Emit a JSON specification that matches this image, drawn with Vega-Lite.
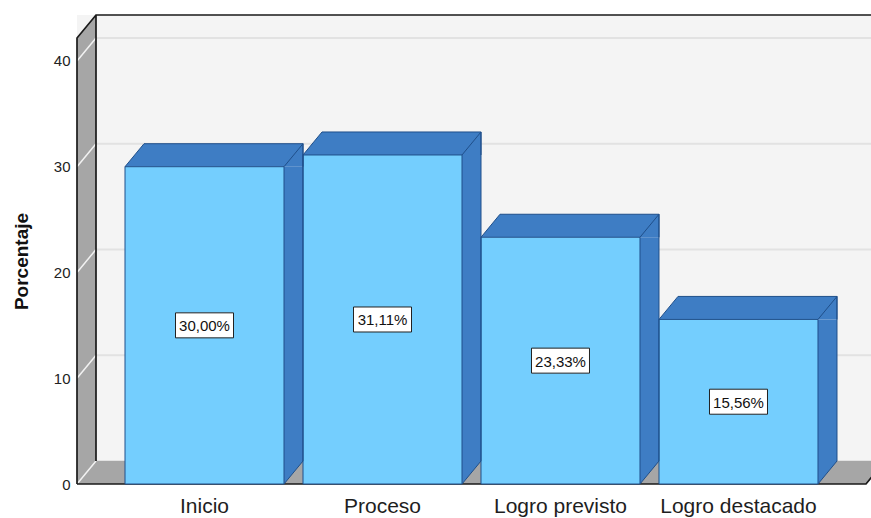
{
  "$schema": "https://vega.github.io/schema/vega-lite/v6.json",
  "width": 789,
  "height": 446,
  "autosize": {"type": "none"},
  "padding": {"left": 77, "top": 38, "right": 5, "bottom": 34},
  "background": "white",
  "config": {"view": {"stroke": null}, "font": "Liberation Sans"},
  "datasets": {
    "pct": [
      {"Categoria": "Inicio", "Porcentaje": 30.00},
      {"Categoria": "Proceso", "Porcentaje": 31.11},
      {"Categoria": "Logro previsto", "Porcentaje": 23.33},
      {"Categoria": "Logro destacado", "Porcentaje": 15.56}
    ],
    "ticks": [{"t": 0}, {"t": 10}, {"t": 20}, {"t": 30}, {"t": 40}],
    "one": [{}]
  },
  "layer": [
    {
      "layer": [
        {
          "data": {"name": "one"},
          "mark": {"type": "rect", "fill": "#F4F4F4", "xOffset": 19, "x2Offset": 19, "yOffset": -23, "y2Offset": -23},
          "encoding": {
            "y": {"datum": 0, "type": "quantitative", "scale": {"domain": [0, 42.17], "nice": false, "zero": false}},
            "y2": {"datum": 42.17}
          }
        },
        {
          "data": {"name": "ticks"},
          "mark": {"type": "rule", "stroke": "#E2E2E2", "strokeWidth": 2, "xOffset": 19, "x2Offset": 19, "yOffset": -23},
          "encoding": {
            "y": {"field": "t", "type": "quantitative", "scale": {"domain": [0, 42.17], "nice": false, "zero": false}}
          }
        },
        {
          "data": {"name": "one"},
          "mark": {"type": "point", "shape": "M -394.5 -446 L -375.5 -469 L -375.5 -23 L 413.5 -23 L 394.5 0 L -394.5 0 Z", "size": 4, "filled": true, "fill": "#A6A6A6", "strokeWidth": 0, "opacity": 1},
          "encoding": {
            "y": {"datum": 0, "type": "quantitative", "scale": {"domain": [0, 42.17], "nice": false, "zero": false}}
          }
        },
        {
          "data": {"name": "ticks"},
          "mark": {"type": "point", "shape": "M -394.5 0 L -375.5 -23", "size": 4, "filled": false, "stroke": "#F2F2F2", "strokeWidth": 1.5, "opacity": 1},
          "encoding": {
            "y": {"field": "t", "type": "quantitative", "scale": {"domain": [0, 42.17], "nice": false, "zero": false}}
          }
        },
        {
          "data": {"name": "one"},
          "mark": {"type": "point", "shape": "M -394.5 0 L -394.5 -446 L -375.5 -469 L 413.5 -469 M -375.5 -469 L -375.5 -23 M -394.5 0 L 394.5 0 L 413.5 -23", "size": 4, "filled": false, "stroke": "#1A1A1A", "strokeWidth": 1.7, "opacity": 1},
          "encoding": {
            "y": {"datum": 0, "type": "quantitative", "scale": {"domain": [0, 42.17], "nice": false, "zero": false}}
          }
        },
        {
          "data": {"name": "pct"},
          "encoding": {
            "x": {
              "field": "Categoria", "type": "nominal",
              "sort": ["Inicio", "Proceso", "Logro previsto", "Logro destacado"],
              "scale": {"paddingInner": 0.10674, "paddingOuter": 0.2697},
              "axis": {"title": null, "domain": false, "ticks": false, "labelAngle": 0, "labelFontSize": 21, "labelPadding": 11, "labelColor": "#1E1E1E", "labelFont": "Liberation Sans"}
            }
          },
          "layer": [
            {
              "mark": {"type": "bar", "width": 19, "xOffset": 89, "y2Offset": -23, "fill": "#3E7DC4", "opacity": 1},
              "encoding": {
                "y": {
                  "field": "Porcentaje", "type": "quantitative",
                  "scale": {"domain": [0, 42.17], "nice": false, "zero": false},
                  "axis": {"title": "Porcentaje", "values": [0, 10, 20, 30, 40], "grid": false, "domain": false, "ticks": false, "labelPadding": 7, "labelFontSize": 15, "labelColor": "#222222", "labelFont": "Liberation Sans", "titleFontSize": 19, "titleFontWeight": "bold", "titleColor": "#111111", "titleFont": "Liberation Sans", "titlePadding": 22}
                },
                "y2": {"datum": 0}
              }
            },
            {
              "mark": {"type": "point", "shape": "M -79.5 0 L -60.5 -23 L 98.5 -23 L 98.5 0 L 79.5 0 Z", "size": 4, "filled": true, "fill": "#3E7DC4", "strokeWidth": 0, "opacity": 1},
              "encoding": {
                "y": {"field": "Porcentaje", "type": "quantitative", "scale": {"domain": [0, 42.17], "nice": false, "zero": false}}
              }
            },
            {
              "mark": {"type": "point", "shape": "M 79 0.5 L 98.5 -23 L 79 -23 Z", "size": 4, "filled": true, "fill": "#3E7DC4", "strokeWidth": 0, "opacity": 1},
              "encoding": {
                "y": {"datum": 0, "type": "quantitative", "scale": {"domain": [0, 42.17], "nice": false, "zero": false}}
              }
            },
            {
              "mark": {"type": "bar", "fill": "#74CEFE", "stroke": "#1F4F8A", "strokeWidth": 1, "opacity": 1},
              "encoding": {
                "y": {"field": "Porcentaje", "type": "quantitative", "scale": {"domain": [0, 42.17], "nice": false, "zero": false}},
                "y2": {"datum": 0}
              }
            },
            {
              "mark": {"type": "rule", "xOffset": 98.5, "yOffset": -23, "y2Offset": -23, "stroke": "#1F4F8A", "strokeWidth": 1},
              "encoding": {
                "y": {"field": "Porcentaje", "type": "quantitative", "scale": {"domain": [0, 42.17], "nice": false, "zero": false}},
                "y2": {"datum": 0}
              }
            },
            {
              "mark": {"type": "point", "shape": "M -79.5 0 L -60.5 -23 L 98.5 -23 L 79.5 0 M 98.5 -23 L 98.5 0", "size": 4, "filled": false, "stroke": "#1F4F8A", "strokeWidth": 1, "opacity": 1},
              "encoding": {
                "y": {"field": "Porcentaje", "type": "quantitative", "scale": {"domain": [0, 42.17], "nice": false, "zero": false}}
              }
            },
            {
              "mark": {"type": "point", "shape": "M 79.5 0 L 98.5 -23", "size": 4, "filled": false, "stroke": "#1F4F8A", "strokeWidth": 1, "opacity": 1},
              "encoding": {
                "y": {"datum": 0, "type": "quantitative", "scale": {"domain": [0, 42.17], "nice": false, "zero": false}}
              }
            }
          ]
        }
      ]
    },
    {
      "data": {"name": "pct"},
      "encoding": {
        "x": {
          "field": "Categoria", "type": "nominal",
          "sort": ["Inicio", "Proceso", "Logro previsto", "Logro destacado"],
          "scale": {"paddingInner": 0.10674, "paddingOuter": 0.2697},
          "axis": {"title": null, "domain": false, "ticks": false, "labelAngle": 0, "labelFontSize": 21, "labelPadding": 11, "labelColor": "#1E1E1E", "labelFont": "Liberation Sans"}
        },
        "y": {"field": "Porcentaje", "type": "quantitative", "scale": {"domain": [0, 84.34], "nice": false, "zero": false}, "axis": null}
      },
      "layer": [
        {
          "mark": {"type": "point", "shape": "M -29 -12.5 L 29 -12.5 L 29 12.5 L -29 12.5 Z", "size": 4, "filled": true, "fill": "white", "stroke": "#222222", "strokeWidth": 1, "opacity": 1}
        },
        {
          "mark": {"type": "text", "font": "Liberation Sans", "fontSize": 15, "fill": "#111111", "baseline": "middle", "align": "center", "dy": 1, "text": {"expr": "replace(format(datum.Porcentaje, '.2f'), '.', ',') + '%'"}}
        }
      ]
    }
  ],
  "resolve": {"scale": {"y": "independent"}}
}
